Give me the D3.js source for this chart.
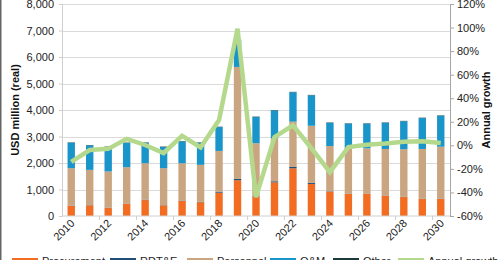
<!DOCTYPE html>
<html>
<head>
<meta charset="utf-8">
<script src="https://cdn.jsdelivr.net/npm/d3@7"></script>
<style>
  body { margin: 0; background: #fff; }
  svg { display: block; font-family: "Liberation Sans", Arial, sans-serif; }
</style>
</head>
<body>
<div id="chart"></div>
<script>
var years = d3.range(2010, 2031).map(String);
var procurement = [385, 400, 300, 460, 600, 400, 565, 520, 880, 1350, 730, 1270, 1800, 1210, 920, 840, 840, 765, 715, 640, 650];
var rdte = [10, 10, 10, 10, 15, 10, 15, 15, 40, 50, 20, 40, 50, 40, 15, 10, 10, 10, 10, 10, 10];
var personnel = [1410, 1330, 1370, 1370, 1375, 1395, 1410, 1395, 1535, 4225, 1995, 1620, 1710, 2155, 1705, 1705, 1705, 1755, 1795, 1880, 1955];
var om = [960, 925, 925, 915, 775, 800, 825, 835, 900, 1010, 990, 1055, 1110, 1150, 875, 930, 930, 985, 1055, 1165, 1170];
var other = [15, 15, 15, 15, 15, 15, 15, 15, 15, 15, 15, 15, 15, 15, 15, 15, 15, 15, 15, 15, 15];
var growth = [-14, -4, -3, 5.5, 0.3, -6.5, 8, -1.8, 21.5, 99, -44, 7, 17, -2.5, -22.8, -1.5, 0.5, 1.5, 3, 3.5, 2];
var leftTicks = [0, 1000, 2000, 3000, 4000, 5000, 6000, 7000, 8000];
var rightTicks = [-60, -40, -20, 0, 20, 40, 60, 80, 100, 120];
var xLabels = ["2010", "2012", "2014", "2016", "2018", "2020", "2022", "2024", "2026", "2028", "2030"];

var seriesNames = ["Procurement", "RDT&E", "Personnel", "O&M", "Other"];
var seriesColors = ["#f26c22", "#1f4e79", "#c9a581", "#1a95c9", "#1b3b3a"];
var growthColor = "#b5d98c";

var svgWidth = 500, svgHeight = 260;
var margin = {top: 4, right: 50, bottom: 44, left: 62};
var width = svgWidth - margin.left - margin.right;
var height = svgHeight - margin.top - margin.bottom;

var svg = d3.select("#chart").append("svg")
  .attr("width", svgWidth)
  .attr("height", svgHeight);

// frame edge on the left
svg.append("line")
  .attr("x1", 0.5).attr("x2", 0.5).attr("y1", 0).attr("y2", svgHeight)
  .attr("stroke", "#666").attr("stroke-width", 2);

var g = svg.append("g").attr("transform", `translate(${margin.left}, ${margin.top})`);

var x = d3.scaleBand().domain(years).range([0, width]).paddingInner(0.6).paddingOuter(0.3);
var y = d3.scaleLinear().domain([0, 8000]).range([height, 0]);
var y2 = d3.scaleLinear().domain([-60, 120]).range([height, 0]);

// grid
g.append("g").selectAll("line")
  .data(leftTicks.slice(1))
  .enter().append("line")
  .attr("x1", 0).attr("x2", width)
  .attr("y1", d => Math.round(y(d)) + 0.5).attr("y2", d => Math.round(y(d)) + 0.5)
  .attr("stroke", "#dadada");

// stacked bars
var table = years.map(function(yr, i) {
  return {year: yr, s0: procurement[i], s1: rdte[i], s2: personnel[i], s3: om[i], s4: other[i]};
});
var stack = d3.stack().keys(["s0", "s1", "s2", "s3", "s4"]);
var layers = stack(table);

g.append("g").selectAll("g")
  .data(layers)
  .enter().append("g")
  .attr("fill", (d, i) => seriesColors[i])
  .selectAll("rect")
  .data(d => d)
  .enter().append("rect")
  .attr("x", d => x(d.data.year))
  .attr("width", x.bandwidth())
  .attr("y", d => y(d[1]))
  .attr("height", d => Math.max(0, y(d[0]) - y(d[1])));

// left axis
var leftAxis = d3.axisLeft(y).tickValues(leftTicks).tickSize(3).tickPadding(5).tickFormat(d3.format(","));
var la = g.append("g").call(leftAxis);
la.select(".domain").attr("stroke", "#d0d0d0");
la.selectAll(".tick line").attr("stroke", "#d0d0d0");
la.selectAll("text").attr("font-size", "11px").attr("fill", "#222");

// right axis
var rightAxis = d3.axisRight(y2).tickValues(rightTicks).tickSize(4).tickPadding(3).tickFormat(d => d + "%");
var ra = g.append("g").attr("transform", `translate(${width}, 0)`).call(rightAxis);
ra.select(".domain").attr("stroke", "#a6a6a6");
ra.selectAll(".tick line").attr("stroke", "#a6a6a6");
ra.selectAll("text").attr("font-size", "11px").attr("fill", "#222");

// bottom axis
var step = x.step();
var xa = g.append("g").attr("transform", `translate(0, ${height})`);
xa.append("line").attr("x1", 0).attr("x2", width).attr("stroke", "#d0d0d0");
xa.selectAll(".xt")
  .data(years.filter((d, i) => i % 2 == 0 && i > 0))
  .enter().append("line")
  .attr("x1", d => Math.round(x(d) + x.bandwidth() / 2 - step / 2) + 0.5)
  .attr("x2", d => Math.round(x(d) + x.bandwidth() / 2 - step / 2) + 0.5)
  .attr("y1", 0).attr("y2", 4)
  .attr("stroke", "#d0d0d0");
xa.selectAll("text")
  .data(xLabels)
  .enter().append("text")
  .attr("transform", d => `translate(${x(d) + x.bandwidth() / 2 + 4}, 8) rotate(-45)`)
  .attr("text-anchor", "end")
  .attr("font-size", "11px")
  .attr("fill", "#222")
  .text(d => d);

// growth line
var line = d3.line()
  .x((d, i) => x(years[i]) + x.bandwidth() / 2)
  .y(d => y2(d));
g.append("path")
  .datum(growth)
  .attr("fill", "none")
  .attr("stroke", growthColor)
  .attr("stroke-width", 4.5)
  .attr("stroke-linejoin", "miter")
  .attr("d", line);

// axis titles
svg.append("text")
  .attr("transform", `translate(19, ${margin.top + height / 2}) rotate(-90)`)
  .attr("text-anchor", "middle")
  .attr("font-size", "11px").attr("font-weight", "bold").attr("fill", "#111")
  .text("USD million (real)");
svg.append("text")
  .attr("transform", `translate(490, ${margin.top + height / 2}) rotate(-90)`)
  .attr("text-anchor", "middle")
  .attr("font-size", "11px").attr("font-weight", "bold").attr("fill", "#111")
  .text("Annual growth");

// legend
var legendX = [12, 110, 187, 270, 333, 398];
var legendItems = seriesNames.concat(["Annual growth"]);
var legendColors = seriesColors.concat([growthColor]);
var legend = svg.append("g").selectAll("g")
  .data(legendItems)
  .enter().append("g")
  .attr("transform", (d, i) => `translate(${legendX[i]}, 0)`);
legend.append("line")
  .attr("x1", 0).attr("x2", 26).attr("y1", 260).attr("y2", 260)
  .attr("stroke", (d, i) => legendColors[i])
  .attr("stroke-width", 4);
legend.append("text")
  .attr("x", 30).attr("y", 265)
  .attr("font-size", "11px").attr("fill", "#222")
  .text(d => d);
</script>
</body>
</html>
